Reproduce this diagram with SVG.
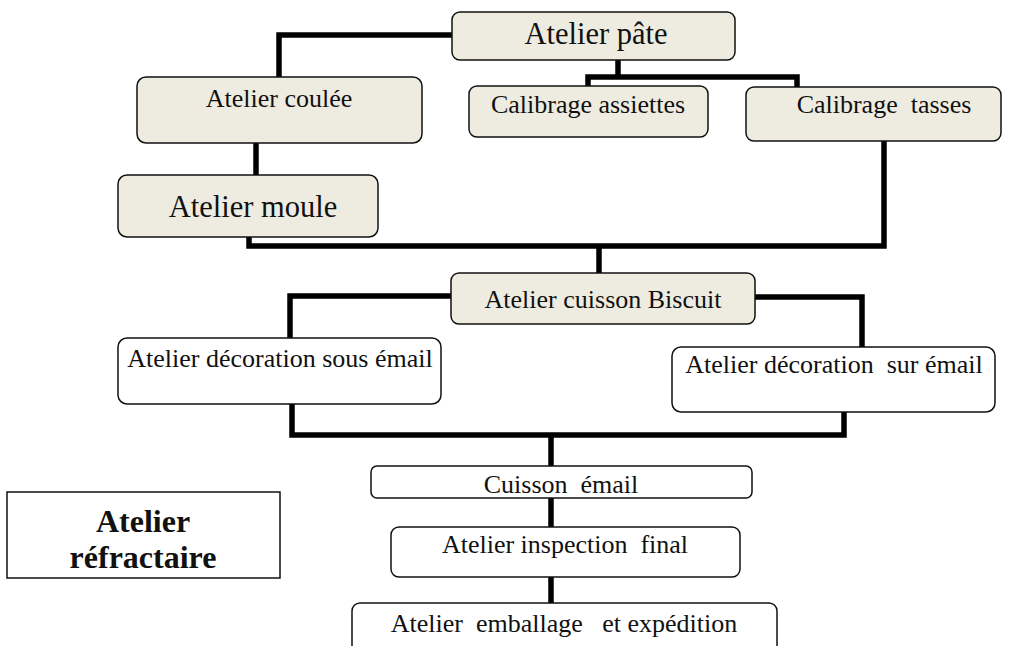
<svg xmlns="http://www.w3.org/2000/svg" width="1014" height="646" viewBox="0 0 1014 646">
<style>
.bx{fill:#EEECE1;stroke:#111;stroke-width:1.5}
.wb{fill:#fff;stroke:#111;stroke-width:1.5}
.t{font-family:"Liberation Serif","Times New Roman",serif;font-size:26px;fill:#111;text-anchor:middle}
.tl{font-size:30.5px}
.b{font-weight:bold;font-size:32px}
.c{fill:none;stroke:#000;stroke-width:5.5;stroke-linejoin:miter}
</style>
<rect width="1014" height="646" fill="#fff"/>
<g id="connectors">
<polyline class="c" points="452,35 279,35 279,77"/>
<polyline class="c" points="618,60 618,77"/>
<polyline class="c" points="588,87 588,77 797,77 797,87"/>
<polyline class="c" points="256,143 256,175"/>
<polyline class="c" points="249,237 249,246 884,246 884,141"/>
<polyline class="c" points="599,246 599,273"/>
<polyline class="c" points="451,296 290,296 290,338"/>
<polyline class="c" points="755,297 862,297 862,347"/>
<polyline class="c" points="292,404 292,435 844,435 844,412"/>
<polyline class="c" points="551,435 551,466"/>
<polyline class="c" points="551,498 551,527"/>
<polyline class="c" points="551,577 551,603"/>
</g>
<g id="pate"><rect class="bx" x="452" y="12" width="283" height="48" rx="8"/><text class="t tl" x="596" y="44">Atelier pâte</text></g>
<g id="coulee"><rect class="bx" x="137" y="77" width="285" height="66" rx="9"/><text class="t" x="279" y="107">Atelier coulée</text></g>
<g id="assiettes"><rect class="bx" x="469" y="86" width="239" height="51" rx="8"/><text class="t" x="588" y="113">Calibrage assiettes</text></g>
<g id="tasses"><rect class="bx" x="746" y="87" width="255" height="54" rx="8"/><text class="t" x="884" y="113" xml:space="preserve">Calibrage  tasses</text></g>
<g id="moule"><rect class="bx" x="118" y="175" width="260" height="62" rx="9"/><text class="t tl" x="253" y="217">Atelier moule</text></g>
<g id="biscuit"><rect class="bx" x="451" y="273" width="304" height="51" rx="8"/><text class="t" x="603" y="308">Atelier cuisson Biscuit</text></g>
<g id="sous"><rect class="wb" x="118" y="338" width="323" height="66" rx="9"/><text class="t" x="280" y="367">Atelier décoration sous émail</text></g>
<g id="sur"><rect class="wb" x="672" y="347" width="323" height="65" rx="9"/><text class="t" x="834" y="373" xml:space="preserve">Atelier décoration  sur émail</text></g>
<g id="cuisson-email"><rect class="wb" x="371" y="466" width="381" height="32" rx="6"/><text class="t" x="561" y="493" xml:space="preserve">Cuisson  émail</text></g>
<g id="inspection"><rect class="wb" x="391" y="527" width="349" height="50" rx="8"/><text class="t" x="565" y="553" xml:space="preserve">Atelier inspection  final</text></g>
<g id="emballage"><rect class="wb" x="352" y="603" width="425" height="60" rx="8"/><text class="t" x="564" y="632" xml:space="preserve">Atelier  emballage   et expédition</text></g>
<g id="refractaire"><rect fill="#fff" stroke="#111" stroke-width="1.5" x="7" y="492" width="273" height="86"/><text class="t b" x="143" y="532">Atelier</text><text class="t b" x="143" y="568">réfractaire</text></g>
</svg>
